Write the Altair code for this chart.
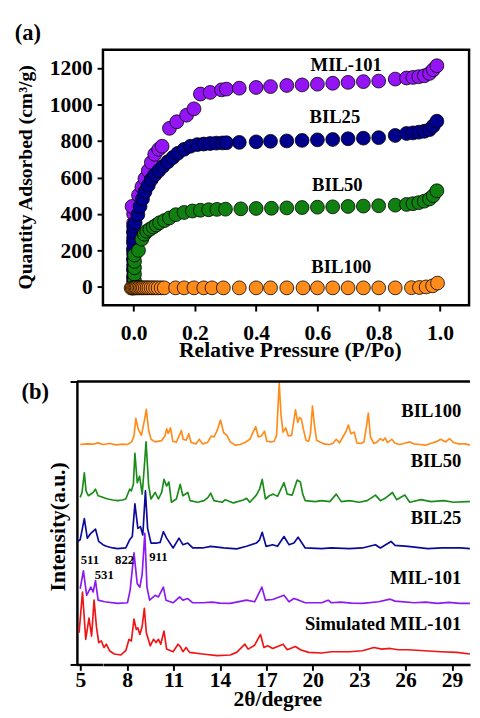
import altair as alt
import pandas as pd

FONT = "Liberation Serif"

# ---------------- panel (a): N2 isotherms ----------------
iso_names = ["MIL-101", "BIL25", "BIL50", "BIL100"]
iso_colors = ["#9414F5", "#00008C", "#108010", "#FF8C1A"]

mil_p = [0.0, 0.0, 0.0, 0.0, 0.0, 0.0, 0.0, 0.0, 0.0,
         -0.005, 0.016, 0.027, 0.037, 0.048, 0.058, 0.069, 0.082, 0.093,
         0.117, 0.141, 0.173, 0.197,
         0.218, 0.25, 0.287, 0.303, 0.345, 0.40, 0.447,
         0.50, 0.55, 0.60, 0.65, 0.70, 0.75, 0.80,
         0.854, 0.891, 0.912, 0.931, 0.949, 0.966, 0.978, 0.99]
mil_q = [0, 50, 100, 150, 200, 250, 300, 350, 400,
         441, 503, 548, 593, 637, 682, 727, 754, 771,
         869, 905, 941, 976,
         1057, 1066, 1080, 1084, 1089, 1093, 1098,
         1104, 1107, 1111, 1116, 1121, 1125, 1128,
         1139, 1145, 1148, 1152, 1157, 1170, 1190, 1212]

b25_p = [0.0, 0.0, 0.0, 0.0, 0.0, 0.0, 0.0, 0.0, 0.0, 0.0, 0.0, 0.0,
         0.005, 0.014, 0.021, 0.029, 0.037, 0.048, 0.058, 0.069, 0.082, 0.096,
         0.112, 0.128, 0.144, 0.165, 0.186, 0.208, 0.229, 0.25, 0.27, 0.29,
         0.303, 0.345, 0.40, 0.447, 0.50, 0.55, 0.60, 0.65, 0.70, 0.75,
         0.80, 0.854, 0.891, 0.912, 0.931, 0.949, 0.966, 0.978, 0.99]
b25_q = [0, 30, 60, 90, 120, 150, 180, 210, 240, 270, 300, 330,
         352, 396, 441, 482, 521, 557, 589, 614, 637, 661,
         686, 709, 732, 754, 771, 780, 783, 786, 788, 789,
         790, 792, 795, 798, 800, 803, 806, 808, 812, 815,
         818, 830, 841, 844, 848, 853, 862, 882, 908]

b50_p = [0.003, 0.003, 0.003, 0.003, 0.003, 0.003,
         0.016, 0.027, 0.035, 0.043, 0.053, 0.064, 0.074, 0.085, 0.101,
         0.117, 0.138, 0.165, 0.192, 0.218, 0.245, 0.272, 0.30,
         0.35, 0.40, 0.45, 0.50, 0.55, 0.60, 0.65, 0.70, 0.75, 0.80,
         0.854, 0.891, 0.912, 0.931, 0.949, 0.966, 0.978, 0.99]
b50_q = [0, 35, 70, 105, 140, 175,
         200, 262, 289, 305, 316, 328, 339, 352, 364,
         378, 396, 408, 416, 420, 423, 425, 426,
         428, 430, 431, 433, 435, 437, 439, 441, 443, 445,
         448, 452, 456, 462, 470, 482, 500, 527]

b100_p = [-0.008, -0.004, 0.0, 0.004, 0.008, 0.012, 0.017, 0.022, 0.027, 0.032,
          0.038, 0.044, 0.05, 0.057, 0.064, 0.072, 0.08, 0.09, 0.10, 0.137,
          0.165, 0.197, 0.229, 0.256, 0.293, 0.345, 0.40, 0.447, 0.50, 0.553,
          0.60, 0.65, 0.70, 0.75, 0.80, 0.854, 0.907, 0.933, 0.955, 0.976, 0.992]
b100_q = [-6, -6, -6, -5, -5, -5, -5, -5, -5, -5,
          -5, -5, -5, -5, -5, -5, -5, -5, -5, -5,
          -5, -5, -5, -5, -5, -5, -5, -5, -5, -5,
          -5, -5, -5, -5, -5, -5, -4, -3, 0, 6, 21]

iso_label_p = [0.694, 0.657, 0.665, 0.678]
iso_label_q = [1216, 932, 557, 111]

a_xticks = [0.0, 0.1, 0.2, 0.3, 0.4, 0.5, 0.6, 0.7, 0.8, 0.9, 1.0]
a_yticks = [0, 100, 200, 300, 400, 500, 600, 700, 800, 900, 1000, 1100, 1200]

# ---------------- panel (b): XRD patterns ----------------
xrd_names = ["BIL100", "BIL50", "BIL25", "MIL-101 ", "Simulated MIL-101"]
xrd_colors = ["#FF8C1A", "#1A8C1A", "#0A0A96", "#8B1AF0", "#F01414"]

b100_t = [4.96, 5.38, 5.80, 6.12, 6.43, 6.86, 7.28, 7.70, 8.02, 8.29,
          8.44, 8.56, 8.71, 8.92, 9.11, 9.24, 9.39, 9.54, 9.81, 10.23,
          10.44, 10.55, 10.65, 10.80, 10.95, 11.18, 11.37, 11.50, 11.62, 11.81,
          11.98, 12.13, 12.45, 12.66, 12.87, 13.19, 13.44, 13.61, 13.82, 14.03,
          14.24, 14.45, 14.66, 14.98, 15.30, 15.61, 15.93, 16.14, 16.31, 16.48,
          16.67, 16.88, 17.03, 17.30, 17.51, 17.66, 17.83, 17.95, 18.08, 18.25,
          18.42, 18.63, 18.78, 18.88, 19.03, 19.14, 19.26, 19.39, 19.56, 19.73,
          19.85, 19.98, 20.11, 20.25, 20.46, 20.78, 21.10, 21.31, 21.52, 21.73,
          21.94, 22.15, 22.30, 22.47, 22.68, 22.85, 23.10, 23.31, 23.48, 23.59,
          23.73, 23.95, 24.16, 24.37, 24.54, 24.68, 24.83, 25.11, 25.32, 25.63,
          25.95, 26.27, 26.52, 26.90, 27.32, 27.64, 27.95, 28.27, 28.59, 28.84,
          29.11, 29.43, 29.86, 30.16]
b100_i = [673, 675, 674, 678, 673, 676, 672, 674, 673, 681,
          699, 753, 721, 701, 746, 781, 716, 689, 681, 685,
          699, 721, 707, 724, 683, 680, 701, 716, 689, 686,
          706, 679, 675, 689, 675, 679, 699, 696, 716, 748,
          709, 701, 681, 671, 673, 679, 689, 711, 728, 696,
          699, 714, 683, 681, 683, 701, 861, 761, 711, 724,
          699, 701, 746, 779, 741, 756, 751, 721, 686, 683,
          706, 791, 731, 686, 681, 674, 673, 677, 689, 678,
          696, 713, 733, 706, 711, 678, 676, 681, 731, 769,
          696, 676, 681, 691, 685, 693, 679, 689, 677, 673,
          677, 681, 675, 673, 671, 677, 681, 689, 681, 691,
          679, 675, 675, 671]

b50_t = [4.96, 5.08, 5.23, 5.34, 5.49, 5.70, 5.80, 5.95, 6.12, 6.33,
         6.54, 6.75, 7.07, 7.38, 7.70, 7.91, 8.16, 8.27, 8.40, 8.50,
         8.65, 8.80, 8.97, 9.11, 9.22, 9.39, 9.54, 9.81, 10.02, 10.23,
         10.38, 10.55, 10.70, 10.86, 11.18, 11.43, 11.60, 11.92, 12.07, 12.55,
         12.97, 13.23, 13.40, 13.61, 14.14, 14.35, 14.87, 15.51, 15.72, 15.93,
         16.35, 16.56, 16.73, 16.94, 17.19, 17.45, 17.72, 18.14, 18.35, 18.67,
         18.99, 19.20, 19.35, 19.51, 20.15, 20.57, 21.10, 21.52, 21.84, 22.36,
         23.00, 23.52, 24.05, 24.37, 24.68, 25.15, 25.42, 25.95, 26.27, 27.00,
         27.64, 28.48, 29.11, 29.96, 30.16]
b50_i = [511, 526, 586, 531, 516, 523, 526, 536, 516, 513,
         509, 506, 503, 501, 503, 506, 536, 531, 551, 646,
         556, 576, 521, 606, 681, 546, 506, 526, 506, 526,
         566, 546, 558, 496, 506, 551, 516, 526, 501, 496,
         501, 511, 524, 501, 496, 504, 494, 503, 508, 496,
         518, 536, 566, 506, 516, 521, 514, 556, 521, 518,
         564, 558, 521, 501, 498, 501, 498, 521, 498, 501,
         496, 501, 518, 501, 508, 526, 504, 518, 496, 504,
         498, 501, 496, 498, 498]

b25_t = [4.79, 4.96, 5.23, 5.42, 5.65, 5.95, 6.16, 6.43, 6.65, 7.07,
         7.38, 7.91, 8.16, 8.33, 8.50, 8.69, 8.86, 9.01, 9.18, 9.32,
         9.54, 9.92, 10.13, 10.34, 10.55, 10.97, 11.35, 11.60, 11.92, 12.24,
         12.87, 13.40, 14.24, 15.08, 15.72, 16.35, 16.56, 16.73, 16.98, 17.41,
         17.72, 18.14, 18.46, 18.78, 19.05, 19.30, 19.51, 20.57, 21.20, 22.36,
         23.21, 24.05, 24.37, 25.06, 25.32, 26.16, 27.43, 28.38, 29.54, 30.16]
b25_i = [376, 381, 446, 386, 401, 414, 376, 366, 361, 356,
         354, 356, 381, 391, 491, 416, 421, 396, 531, 416,
         371, 371, 373, 406, 386, 356, 386, 366, 371, 356,
         356, 361, 356, 353, 361, 371, 381, 404, 361, 366,
         361, 391, 366, 371, 389, 371, 356, 354, 356, 354,
         356, 366, 356, 376, 364, 361, 354, 356, 356, 354]

mil_t = [4.96, 5.17, 5.38, 5.65, 5.80, 5.95, 6.12, 6.54, 7.38, 8.02,
         8.19, 8.44, 8.65, 8.82, 8.97, 9.14, 9.28, 9.45, 9.81, 10.02,
         10.34, 10.51, 10.97, 11.39, 11.60, 11.92, 12.24, 12.87, 13.50, 14.00,
         14.66, 15.72, 16.24, 16.71, 16.94, 17.41, 18.14, 18.46, 18.78, 19.09,
         19.51, 20.57, 20.99, 21.20, 21.80, 22.50, 23.21, 24.26, 25.00, 25.32,
         26.58, 27.30, 28.06, 28.80, 29.50, 30.16]
mil_i = [231, 286, 211, 236, 221, 256, 196, 191, 186, 188,
         226, 341, 246, 236, 276, 401, 236, 196, 211, 206,
         236, 196, 188, 206, 196, 201, 188, 188, 190, 187,
         186, 196, 191, 236, 196, 198, 211, 191, 201, 196,
         188, 188, 196, 188, 190, 187, 186, 191, 199, 193,
         188, 190, 186, 189, 186, 186]

sim_t = [4.89, 5.11, 5.32, 5.53, 5.70, 5.86, 6.01, 6.16, 6.33, 6.50,
         6.65, 6.86, 7.17, 7.59, 7.91, 8.12, 8.27, 8.44, 8.59, 8.69,
         8.82, 8.97, 9.11, 9.24, 9.49, 9.70, 9.87, 10.02, 10.17, 10.38,
         10.55, 10.97, 11.29, 11.43, 11.60, 11.81, 12.03, 12.87, 13.82, 14.66,
         15.08, 15.61, 15.82, 16.24, 16.62, 16.84, 17.09, 17.41, 18.08, 18.35,
         18.88, 19.20, 19.73, 20.57, 21.20, 22.36, 23.21, 23.95, 24.47, 25.00,
         25.53, 26.16, 27.22, 28.27, 29.32, 30.16]
sim_i = [96, 221, 76, 141, 86, 196, 116, 66, 71, 51,
         61, 41, 31, 28, 41, 76, 71, 138, 106, 111,
         91, 116, 171, 96, 56, 76, 66, 76, 61, 101,
         46, 38, 61, 54, 38, 51, 36, 31, 26, 28,
         36, 61, 46, 58, 91, 51, 56, 48, 61, 44,
         54, 44, 36, 34, 38, 38, 41, 51, 46, 48,
         44, 44, 41, 38, 36, 31]

xrd_label_text = ["BIL100", "BIL50", "BIL25", "MIL-101", "Simulated MIL-101"]
xrd_label_t = [29.6, 29.6, 29.6, 29.6, 29.6]
xrd_label_i = [776, 623, 446, 264, 123]

peak_labels = ["511", "531", "822", "911"]
peak_t = [5.59, 6.52, 7.83, 10.02]
peak_i = [319, 274, 319, 329]

b_xticks = [8, 11, 14, 17, 20, 23, 26, 29]   # axis ticks inside the view
b_first_tick = [5]                            # tick left of the view origin
b_start = 4.75                                # left end of the 2-theta axis
b_domain = [6.4335, 30.168]                   # part of the axis over the view
b_frame_i = [-1, 866]

# ---------------- tables ----------------
iso_df = pd.concat([
    pd.DataFrame({"P": mil_p, "Q": mil_q, "sample": iso_names[0]}),
    pd.DataFrame({"P": b25_p, "Q": b25_q, "sample": iso_names[1]}),
    pd.DataFrame({"P": b50_p, "Q": b50_q, "sample": iso_names[2]}),
    pd.DataFrame({"P": b100_p, "Q": b100_q, "sample": iso_names[3]}),
], ignore_index=True)
iso_lab_df = pd.DataFrame({"P": iso_label_p, "Q": iso_label_q, "name": iso_names})

xrd_df = pd.concat([
    pd.DataFrame({"t": b100_t, "I": b100_i, "pattern": xrd_names[0]}),
    pd.DataFrame({"t": b50_t, "I": b50_i, "pattern": xrd_names[1]}),
    pd.DataFrame({"t": b25_t, "I": b25_i, "pattern": xrd_names[2]}),
    pd.DataFrame({"t": mil_t, "I": mil_i, "pattern": xrd_names[3]}),
    pd.DataFrame({"t": sim_t, "I": sim_i, "pattern": xrd_names[4]}),
], ignore_index=True)
xrd_lab_df = pd.DataFrame({"t": xrd_label_t, "I": xrd_label_i, "name": xrd_label_text})
peak_df = pd.DataFrame({"t": peak_t, "I": peak_i, "name": peak_labels})
first_tick_df = pd.DataFrame({"t": b_first_tick, "lab": [str(v) for v in b_first_tick]})
one_row = pd.DataFrame({"t": ["x"]})

# ---------------- panel (a) ----------------
sx_a = alt.Scale(domain=[-0.1, 1.095], nice=False, zero=False)
sy_a = alt.Scale(domain=[-100, 1300], nice=False, zero=False)
axis_xa = alt.Axis(values=a_xticks, domain=False, labelOverlap=False, labelFlush=False,
                   labelExpr="round(datum.value*10) % 2 == 0 ? format(datum.value, '.1f') : ''",
                   labelPadding=12, tickSize=6,
                   title="Relative Pressure (P/Po)", titleX=191, titleY=52.5,
                   titleBaseline="alphabetic", titleAlign="center")
axis_ya = alt.Axis(values=a_yticks, format="d", domain=False, labelOverlap=False, labelFlush=False,
                   labelExpr="datum.value % 200 == 0 ? datum.label : ''",
                   labelPadding=5, tickSize=6,
                   title="Quantity Adsorbed (cm³/g)", titleAngle=270, titleX=-73, titleY=130,
                   titleFontSize=20, titleBaseline="alphabetic", titleAlign="center")

color_a = alt.Color("sample:N", scale=alt.Scale(domain=iso_names, range=iso_colors), legend=None)

pts = alt.Chart(iso_df).mark_circle(size=200, stroke="black", strokeWidth=0.8, opacity=1).encode(
    x=alt.X("P:Q", scale=sx_a, axis=axis_xa),
    y=alt.Y("Q:Q", scale=sy_a, axis=axis_ya),
    color=color_a,
)

iso_txt = alt.Chart(iso_lab_df).mark_text(font=FONT, fontWeight="bold", fontSize=19,
                                         color="black", baseline="middle").encode(
    x="P:Q", y="Q:Q", text="name:N",
)

tag_a = alt.Chart(pd.DataFrame({"t": ["(a)"]})).mark_text(
    font=FONT, fontWeight="bold", fontSize=23, color="black", align="left", baseline="middle"
).encode(x=alt.value(-90), y=alt.value(-17), text="t:N")

panel_a = alt.layer(pts, iso_txt, tag_a).properties(
    width=374, height=261,
    view=alt.ViewBackground(stroke="black", strokeWidth=2.5, fill="white"),
)

# ---------------- panel (b) ----------------
B_WIDTH = 375
B_HEIGHT = 289
B_SHIFT = 26.6   # the (b) axis starts this far left of the shared plot origin
sx_b = alt.Scale(domain=b_domain, nice=False, zero=False)
sy_b = alt.Scale(domain=b_frame_i, nice=False, zero=False)
axis_xb = alt.Axis(values=b_xticks, format="d", labelPadding=0, tickSize=6, labelFlush=False,
                   title="2θ/degree", titleX=178, titleY=42,
                   titleBaseline="alphabetic", titleAlign="center")
axis_yb = alt.Axis(values=b_frame_i, labels=False, tickSize=7, offset=B_SHIFT,
                   title="Intensity(a.u.)", titleAngle=270, titleX=-13, titleY=148,
                   titleBaseline="alphabetic", titleAlign="center")

color_b = alt.Color("pattern:N", scale=alt.Scale(domain=xrd_names, range=xrd_colors), legend=None)

lines = alt.Chart(xrd_df).mark_line(strokeWidth=1.7, strokeJoin="round").encode(
    x=alt.X("t:Q", scale=sx_b, axis=axis_xb),
    y=alt.Y("I:Q", scale=sy_b, axis=axis_yb),
    color=color_b,
)

xrd_txt = alt.Chart(xrd_lab_df).mark_text(font=FONT, fontWeight="bold", fontSize=19,
                                         color="black", align="right", baseline="middle").encode(
    x="t:Q", y="I:Q", text="name:N",
)

peak_txt = alt.Chart(peak_df).mark_text(font=FONT, fontWeight="bold", fontSize=13,
                                       color="black", baseline="middle").encode(
    x="t:Q", y="I:Q", text="name:N",
)

b_top = alt.Chart(one_row).mark_rule(color="black", strokeWidth=2.5).encode(
    x=alt.datum(b_start), x2=alt.datum(b_domain[1]), y=alt.datum(b_frame_i[1]))
b_bottom_ext = alt.Chart(one_row).mark_rule(color="black", strokeWidth=2.5).encode(
    x=alt.datum(b_start), x2=alt.datum(b_domain[0]), y=alt.value(B_HEIGHT + 0.5))
first_tick = alt.Chart(first_tick_df).mark_rule(color="black", strokeWidth=2).encode(
    x="t:Q", y=alt.value(B_HEIGHT), y2=alt.value(B_HEIGHT + 6.5))
first_label = alt.Chart(first_tick_df).mark_text(
    font=FONT, fontWeight="bold", fontSize=22, color="black", align="center", baseline="top"
).encode(x="t:Q", y=alt.value(B_HEIGHT + 6.5), text="lab:N")

tag_b = alt.Chart(pd.DataFrame({"t": ["(b)"]})).mark_text(
    font=FONT, fontWeight="bold", fontSize=23, color="black", align="left", baseline="middle"
).encode(x=alt.value(-83.3), y=alt.value(11), text="t:N")

panel_b = alt.layer(lines, xrd_txt, peak_txt, b_top, b_bottom_ext, first_tick, first_label,
                    tag_b).properties(width=B_WIDTH, height=B_HEIGHT)

chart = alt.vconcat(panel_a, panel_b, spacing=18).resolve_scale(
    color="independent"
).properties(
    padding={"left": 5, "top": 5, "right": 0, "bottom": -5},
    background="white",
).configure_axis(
    labelFont=FONT, labelFontWeight="bold", labelFontSize=22, labelColor="black",
    titleFont=FONT, titleFontWeight="bold", titleFontSize=22, titleColor="black",
    domainColor="black", domainWidth=2.5, tickColor="black", tickWidth=2, grid=False,
).configure_view(stroke=None)

chart.save("out.html", embed_options={"renderer": "svg", "actions": False})
